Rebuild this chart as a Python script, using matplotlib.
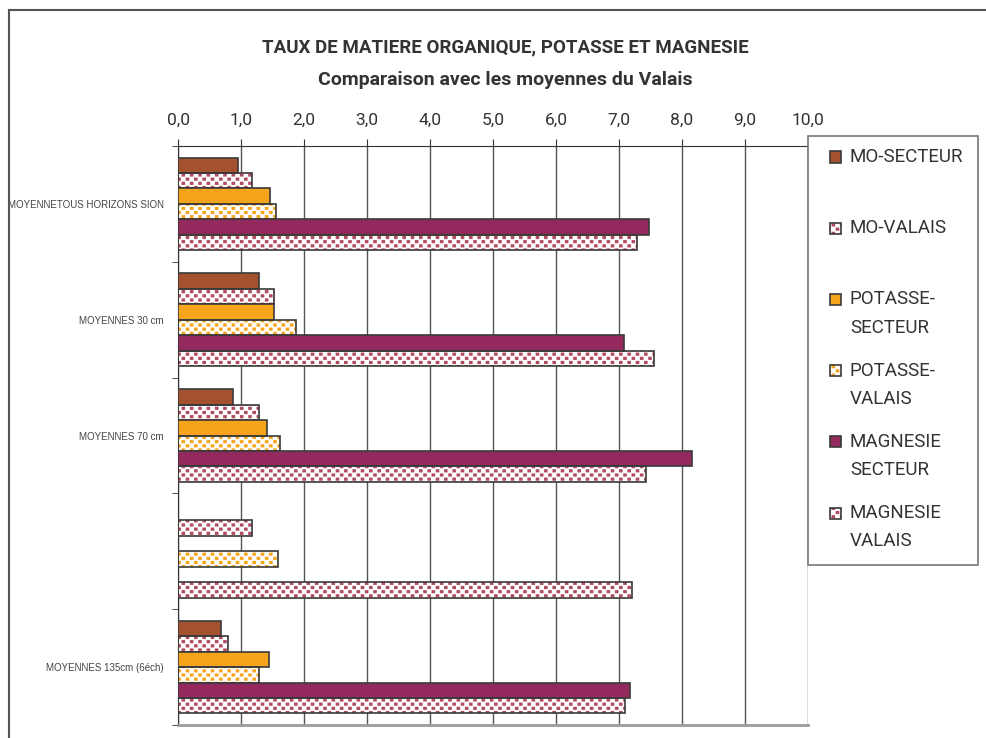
import matplotlib
matplotlib.use("Agg")
import matplotlib.hatch as mhatch
import matplotlib.pyplot as plt
import numpy as np
from matplotlib.lines import Line2D
from matplotlib.patches import Rectangle
from matplotlib.path import Path

plt.rcParams["font.family"] = ["Roboto", "DejaVu Sans"]
plt.rcParams["hatch.linewidth"] = 2.3


class SquareDots(mhatch.HatchPatternBase):
    """'s' hatch: small square dots, staggered rows at half the column pitch.
    Each dot is a very short stroked segment; the square caps make the square."""

    def __init__(self, hatch, density):
        self.num_rows = hatch.count("s") * density
        n = self.num_rows
        self.num_vertices = 2 * ((n + 1) ** 2 + n ** 2) if n else 0

    def set_vertices_and_codes(self, vertices, codes):
        n = self.num_rows
        step = 1.0 / n
        stub = 0.002
        pts = []
        for r in range(2 * n + 1):
            yy = r * step / 2
            if r % 2 == 0:
                xs = np.linspace(0, 1, n + 1)
            else:
                xs = np.linspace(step / 2, 1 - step / 2, n)
            for xx in xs:
                pts += [(xx - stub, yy), (xx + stub, yy)]
        vertices[:] = np.array(pts)
        codes[0::2] = Path.MOVETO
        codes[1::2] = Path.LINETO


mhatch._hatch_types.append(SquareDots)

W, H = 987, 738

categories = ["MOYENNETOUS HORIZONS SION", "MOYENNES 30 cm", "MOYENNES 70 cm", "",
              "MOYENNES 135cm (6éch)"]
series_labels = ["MO-SECTEUR", "MO-VALAIS", "POTASSE-\nSECTEUR", "POTASSE-\nVALAIS",
                 "MAGNESIE\nSECTEUR", "MAGNESIE\nVALAIS"]

# nan = no value for that depth
mo_secteur = [0.95, 1.28, 0.88, np.nan, 0.69]
mo_valais = [1.18, 1.53, 1.28, 1.18, 0.79]
potasse_secteur = [1.46, 1.53, 1.42, np.nan, 1.44]
potasse_valais = [1.56, 1.88, 1.62, 1.58, 1.28]
magnesie_secteur = [7.48, 7.08, 8.16, np.nan, 7.17]
magnesie_valais = [7.29, 7.55, 7.43, 7.20, 7.10]

series = [mo_secteur, mo_valais, potasse_secteur, potasse_valais,
          magnesie_secteur, magnesie_valais]
colors = ["#A3512F", "#B14A5F", "#F7A41D", "#F7A41D", "#93295D", "#B14A5F"]
dotted = [False, True, False, True, False, True]

xticks = np.arange(0, 11, 1)
EDGE = "#3a3a3a"
TEXT = "#333333"
DOTS = "ss"


def px(x, y):
    """pixel position (from top-left) -> figure fraction"""
    return x / W, 1 - y / H


fig = plt.figure(figsize=(W / 100, H / 100), dpi=100)
ax = fig.add_axes([178 / W, 13 / H, 630 / W, 579 / H])

bar_h = 0.133
pos = np.arange(len(categories))
for i, (vals, c, dots) in enumerate(zip(series, colors, dotted)):
    vals = np.array(vals, dtype=float)
    ok = np.isfinite(vals)
    y = pos[ok] + (i - 2.5) * bar_h
    if dots:
        # hatch takes the edge colour, so the outline goes on a second pass
        ax.barh(y, vals[ok], height=bar_h, color="white", edgecolor=c,
                hatch=DOTS, linewidth=0, zorder=2)
        ax.barh(y, vals[ok], height=bar_h, color="none", edgecolor=EDGE,
                linewidth=1.2, zorder=3)
    else:
        ax.barh(y, vals[ok], height=bar_h, color=c, edgecolor=EDGE,
                linewidth=1.2, zorder=3)

ax.set_xlim(0, 10)
ax.set_ylim(len(categories) - 0.5, -0.5)
ax.set_xticks(xticks)
ax.set_xticklabels([f"{v:.1f}".replace(".", ",") for v in xticks])
ax.xaxis.grid(True, color="#555555", linewidth=1)
ax.set_axisbelow(True)
ax.tick_params(axis="x", top=True, labeltop=True, bottom=False, labelbottom=False,
               direction="out", length=5, color=TEXT, labelsize=12.5,
               labelcolor=TEXT, pad=8)

ax.set_yticks(pos)
ax.set_yticklabels(categories, family="Liberation Sans")
ax.set_yticks(np.arange(-0.5, len(categories), 1), minor=True)
ax.tick_params(axis="y", which="major", length=0, labelsize=7, labelcolor="#444444", pad=10)
ax.tick_params(axis="y", which="minor", length=4, direction="out", color=TEXT)

ax.spines["right"].set_visible(False)
ax.spines["left"].set_color(TEXT)
ax.spines["top"].set_color(TEXT)
ax.spines["bottom"].set_color("#a09a9a")
ax.spines["bottom"].set_linewidth(2)

# titles
fig.text(*px(505, 47), "TAUX DE MATIERE ORGANIQUE, POTASSE ET MAGNESIE",
         ha="center", va="center", fontsize=13.5, fontweight="bold", color=TEXT)
fig.text(*px(505, 80), "Comparaison avec les moyennes du Valais",
         ha="center", va="center", fontsize=14, fontweight="bold", color=TEXT)

# outer chart frame (runs past the right and bottom edges)
fig.add_artist(Line2D([9 / W, 1], [1 - 10 / H] * 2, transform=fig.transFigure,
                      color="#555555", linewidth=1.5))
fig.add_artist(Line2D([9 / W, 9 / W], [0, 1 - 10 / H], transform=fig.transFigure,
                      color="#555555", linewidth=1.5))

# legend box, one entry every 71 px, swatch on the first text line
lx0, ly0 = px(808, 565)
fig.add_artist(Rectangle((lx0, ly0), 170 / W, 429 / H, transform=fig.transFigure,
                         facecolor="white", edgecolor="#777777", linewidth=1.2))
for k, (label, c, dots) in enumerate(zip(series_labels, colors, dotted)):
    yc = 157 + 71.2 * k
    sx, sy = px(830, yc + 5.5)
    sw, sh = 11 / W, 11 / H
    if dots:
        fig.add_artist(Rectangle((sx, sy), sw, sh, transform=fig.transFigure,
                                 facecolor="white", edgecolor=c, hatch=DOTS,
                                 linewidth=0))
        fig.add_artist(Rectangle((sx, sy), sw, sh, transform=fig.transFigure,
                                 facecolor="none", edgecolor=EDGE, linewidth=1.2))
    else:
        fig.add_artist(Rectangle((sx, sy), sw, sh, transform=fig.transFigure,
                                 facecolor=c, edgecolor=EDGE, linewidth=1.2))
    for j, line in enumerate(label.split("\n")):
        fig.text(*px(850, yc + 28.5 * j), line, ha="left", va="center",
                 fontsize=13.5, color=TEXT)

fig.savefig("out.png", dpi=100)
